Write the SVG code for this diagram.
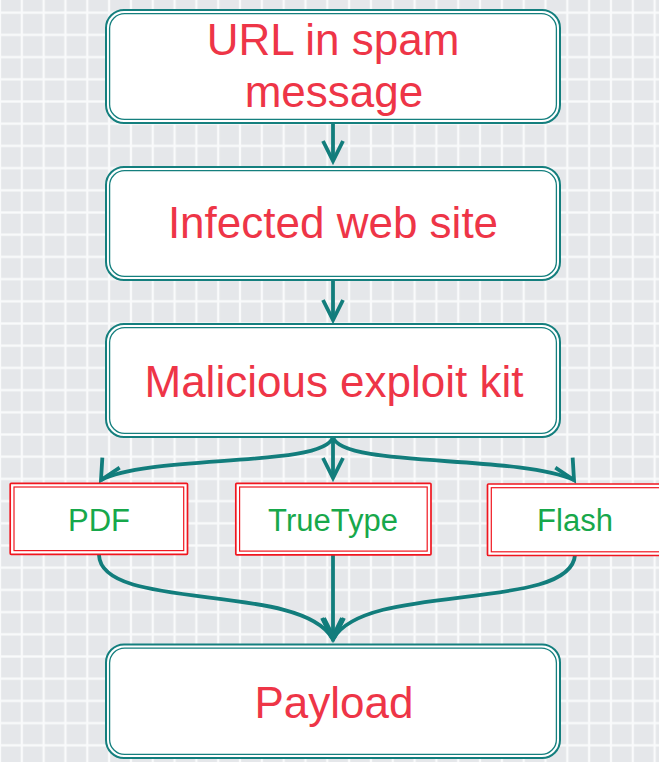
<svg xmlns="http://www.w3.org/2000/svg" width="659" height="762" viewBox="0 0 659 762">
<style>
.big{font-family:"Liberation Sans",Arial,sans-serif;font-size:44px;fill:#ee3547;text-anchor:middle}
.small{font-family:"Liberation Sans",Arial,sans-serif;font-size:31px;fill:#17a84b;text-anchor:middle}
.bo{fill:#fff;stroke:#147f7e;stroke-width:2}
.bi{fill:none;stroke:#147f7e;stroke-width:1.3}
.ro{fill:#fff;stroke:#f0161f;stroke-width:1.7}
.ri{fill:none;stroke:#f0161f;stroke-width:1.2}
.con{fill:none;stroke:#127d7c;stroke-width:3.8}
.ah{fill:none;stroke:#127d7c;stroke-width:3.8}
</style>
<defs>
<pattern id="grid" patternUnits="userSpaceOnUse" x="10.91" y="1.6" width="21.82" height="22.2">
<rect width="21.82" height="22.2" fill="#e5e7ea"/>
<line x1="10.91" y1="0" x2="10.91" y2="22.2" stroke="#f9fafb" stroke-width="2.3"/>
<line x1="0" y1="11.1" x2="21.82" y2="11.1" stroke="#f9fafb" stroke-width="2.3"/>
</pattern>
<marker id="m90" markerUnits="userSpaceOnUse" orient="90" markerWidth="40" markerHeight="40" viewBox="-30 -20 40 40" refX="0" refY="0" overflow="visible"><path class="ah" d="M-20,-10 L0,0 L-20,10"/></marker>
<marker id="m120" markerUnits="userSpaceOnUse" orient="120" markerWidth="40" markerHeight="40" viewBox="-30 -20 40 40" refX="0" refY="0" overflow="visible"><path class="ah" d="M-20,-10 L0,0 L-20,10"/></marker>
<marker id="m60" markerUnits="userSpaceOnUse" orient="60" markerWidth="40" markerHeight="40" viewBox="-30 -20 40 40" refX="0" refY="0" overflow="visible"><path class="ah" d="M-20,-10 L0,0 L-20,10"/></marker>
</defs>
<rect width="659" height="762" fill="url(#grid)"/>

<g id="connectors">
<path class="con" d="M333,123 L333,161" marker-end="url(#m90)"/>
<path class="con" d="M333,280 L333,320" marker-end="url(#m90)"/>
<path class="con" d="M333,437 C325,468 150,454 101,480" marker-end="url(#m120)"/>
<path class="con" d="M333,437 L333,478" marker-end="url(#m90)"/>
<path class="con" d="M333,437 C341,468 516,454 574,480" marker-end="url(#m60)"/>
<path class="con" d="M99,555 C101,612 300,582 332,638" marker-end="url(#m90)"/>
<path class="con" d="M333,555 L333,639" marker-end="url(#m90)"/>
<path class="con" d="M575,555 C571,612 366,582 334,638" marker-end="url(#m90)"/>
</g>

<g id="url">
<rect class="bo" x="106" y="10" width="454" height="113" rx="18"/>
<rect class="bi" x="109.6" y="13.6" width="446.8" height="105.8" rx="15"/>
<text class="big" x="333" y="55">URL in spam</text>
<text class="big" x="334" y="107">message</text>
</g>
<g id="infected">
<rect class="bo" x="106" y="167" width="454" height="113" rx="18"/>
<rect class="bi" x="109.6" y="170.6" width="446.8" height="105.8" rx="15"/>
<text class="big" x="333" y="238">Infected web site</text>
</g>
<g id="exploit">
<rect class="bo" x="106" y="324" width="454" height="113" rx="18"/>
<rect class="bi" x="109.6" y="327.6" width="446.8" height="105.8" rx="15"/>
<text class="big" x="334" y="397">Malicious exploit kit</text>
</g>
<g id="pdf">
<rect class="ro" x="10.2" y="483.3" width="177.3" height="71" rx="1"/>
<rect class="ri" x="14" y="487" width="169.7" height="63.6"/>
<text class="small" x="99" y="531">PDF</text>
</g>
<g id="truetype">
<rect class="ro" x="235.8" y="483.3" width="195.2" height="71.5" rx="1"/>
<rect class="ri" x="239.6" y="487" width="187.6" height="64.1"/>
<text class="small" x="333" y="531">TrueType</text>
</g>
<g id="flash">
<rect class="ro" x="487.5" y="484" width="180" height="71.5" rx="1"/>
<rect class="ri" x="491.3" y="487.7" width="180" height="64.1"/>
<text class="small" x="575" y="531">Flash</text>
</g>
<g id="payload">
<rect class="bo" x="106" y="644.5" width="454" height="113.5" rx="18"/>
<rect class="bi" x="109.6" y="648.1" width="446.8" height="106.3" rx="15"/>
<text class="big" x="334" y="718">Payload</text>
</g>
</svg>
